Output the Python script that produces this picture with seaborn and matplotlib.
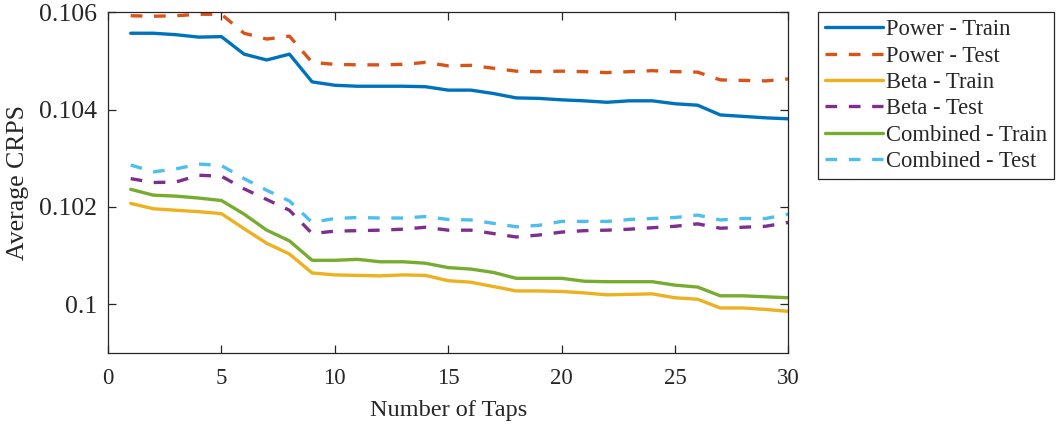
import numpy as np
import pandas as pd
import matplotlib
matplotlib.use("Agg")
import matplotlib.pyplot as plt
import seaborn as sns

# Average CRPS versus number of filter taps
taps = list(range(1, 31))

power_train = [0.10557, 0.10557, 0.10554, 0.10549, 0.10550, 0.10514, 0.10502, 0.10514, 0.10457, 0.10450,
               0.10448, 0.10448, 0.10448, 0.10447, 0.10440, 0.10440, 0.10433, 0.10424, 0.10423, 0.10420,
               0.10418, 0.10415, 0.10418, 0.10418, 0.10412, 0.10409, 0.10389, 0.10386, 0.10383, 0.10381]
power_test = [0.10593, 0.10592, 0.10593, 0.10596, 0.10596, 0.10557, 0.10545, 0.10551, 0.10497, 0.10493,
              0.10492, 0.10492, 0.10493, 0.10497, 0.10490, 0.10491, 0.10485, 0.10479, 0.10478, 0.10479,
              0.10478, 0.10476, 0.10478, 0.10480, 0.10478, 0.10477, 0.10461, 0.10460, 0.10459, 0.10463]
beta_train = [0.10207, 0.10196, 0.10193, 0.10190, 0.10186, 0.10155, 0.10125, 0.10103, 0.10064, 0.10060,
              0.10059, 0.10058, 0.10060, 0.10059, 0.10048, 0.10045, 0.10036, 0.10027, 0.10027, 0.10026,
              0.10023, 0.10019, 0.10020, 0.10021, 0.10013, 0.10010, 0.09992, 0.09992, 0.09989, 0.09985]
beta_test = [0.10258, 0.10250, 0.10251, 0.10265, 0.10263, 0.10237, 0.10215, 0.10193, 0.10145, 0.10150,
             0.10151, 0.10152, 0.10154, 0.10158, 0.10152, 0.10152, 0.10145, 0.10138, 0.10142, 0.10148,
             0.10151, 0.10152, 0.10154, 0.10157, 0.10160, 0.10165, 0.10156, 0.10158, 0.10160, 0.10168]
combined_train = [0.10236, 0.10224, 0.10222, 0.10218, 0.10213, 0.10185, 0.10152, 0.10130, 0.10090, 0.10090,
                  0.10092, 0.10087, 0.10087, 0.10084, 0.10075, 0.10072, 0.10065, 0.10053, 0.10053, 0.10053,
                  0.10047, 0.10046, 0.10046, 0.10046, 0.10039, 0.10035, 0.10017, 0.10017, 0.10015, 0.10013]
combined_test = [0.10286, 0.10272, 0.10278, 0.10288, 0.10285, 0.10258, 0.10234, 0.10212, 0.10168, 0.10176,
                 0.10178, 0.10177, 0.10177, 0.10180, 0.10174, 0.10173, 0.10166, 0.10159, 0.10162, 0.10170,
                 0.10170, 0.10170, 0.10174, 0.10176, 0.10178, 0.10183, 0.10173, 0.10176, 0.10176, 0.10185]

series_names = ["Power - Train", "Power - Test", "Beta - Train",
                "Beta - Test", "Combined - Train", "Combined - Test"]
series_values = [power_train, power_test, beta_train, beta_test, combined_train, combined_test]
series_colors = ["#0072BD", "#D95319", "#EDB120", "#7E2F8E", "#77AC30", "#4DBEEE"]

x_ticks = [0, 5, 10, 15, 20, 25, 30]
y_ticks = [0.100, 0.102, 0.104, 0.106]
y_tick_labels = ["0.1", "0.102", "0.104", "0.106"]

df = pd.concat(
    [pd.DataFrame({"Taps": taps, "CRPS": vals, "Series": name})
     for name, vals in zip(series_names, series_values)],
    ignore_index=True,
)

sns.set_theme(style="white")
plt.rcParams["font.family"] = ["Liberation Serif", "DejaVu Serif"]

fig = plt.figure(figsize=(10.6, 4.25), dpi=100)
ax = fig.add_axes([0.1019, 0.1701, 0.6418, 0.8009])

palette = dict(zip(series_names, series_colors))
dashes = {name: ("" if "Train" in name else (3.5, 3.5)) for name in series_names}

sns.lineplot(data=df, x="Taps", y="CRPS", hue="Series", style="Series",
             hue_order=series_names, style_order=series_names,
             palette=palette, dashes=dashes, linewidth=2.4, ax=ax, legend=True)

ax.set_xlim(0, 30)
ax.set_ylim(0.099, 0.106)
ax.set_xticks(x_ticks)
ax.set_xticklabels([str(t) for t in x_ticks], fontsize=16.5)
ax.set_yticks(y_ticks)
ax.set_yticklabels(y_tick_labels, fontsize=18.5)
ax.tick_params(axis="x", pad=11)
ax.tick_params(axis="y", pad=8)
ax.set_xlabel("Number of Taps", fontsize=17.5, color="#262626", labelpad=8)
ax.set_ylabel("Average CRPS", fontsize=18.5, color="#262626", labelpad=7)

for side in ["left", "right", "top", "bottom"]:
    ax.spines[side].set_visible(True)
    ax.spines[side].set_color("#262626")
    ax.spines[side].set_linewidth(0.9)
ax.tick_params(direction="in", length=6, width=0.9, color="#262626",
               top=True, right=True, bottom=True, left=True,
               labelcolor="#262626")

handles, labels = ax.get_legend_handles_labels()
leg = ax.legend(handles, labels, loc="upper left", bbox_to_anchor=(1.0 + 30 / 680.0, 1.0),
                bbox_transform=ax.transAxes, fontsize=16.3, frameon=True, fancybox=False,
                framealpha=1, edgecolor="#262626", handlelength=2.55, handletextpad=0.15,
                labelspacing=0.24, borderpad=0.3, borderaxespad=0)
leg.get_frame().set_linewidth(0.9)
for line in leg.get_lines():
    line.set_linewidth(2.4)

fig.savefig("out.png", dpi=100, facecolor="white")
